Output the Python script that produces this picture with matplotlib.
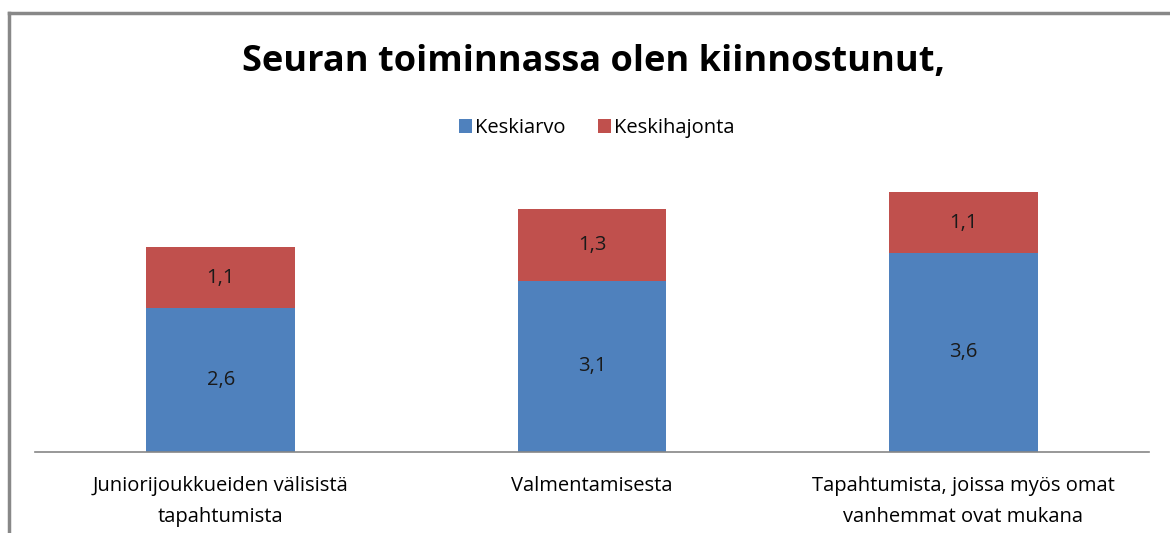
import matplotlib.pyplot as plt
from matplotlib.lines import Line2D

categories = ['Juniorijoukkueiden välisistä\ntapahtumista',
              'Valmentamisesta',
              'Tapahtumista, joissa myös omat\nvanhemmat ovat mukana']
keskiarvo = [2.6, 3.1, 3.6]
keskihajonta = [1.1, 1.3, 1.1]
labels_mean = ['2,6', '3,1', '3,6']
labels_sd = ['1,1', '1,3', '1,1']

blue = '#4F81BD'
red = '#C0504D'
font = ['Open Sans', 'DejaVu Sans']
plt.rcParams['font.family'] = font

W, H = 1170, 533
fig = plt.figure(figsize=(W / 100, H / 100), dpi=100)

# chart frame (only left and top edges visible in the reference)
fig.add_artist(Line2D([9 / W, 9 / W], [0, 1 - 13 / H], color='#888888', lw=2.5))
fig.add_artist(Line2D([9 / W, 1], [1 - 13 / H, 1 - 13 / H], color='#888888', lw=2.5))

base = 452
top = 175.5
ax = fig.add_axes([35 / W, (H - base) / H, (1149 - 35) / W, (base - top) / H])

x = range(len(categories))
b1 = ax.bar(x, keskiarvo, width=0.4, color=blue, label='Keskiarvo')
b2 = ax.bar(x, keskihajonta, width=0.4, bottom=keskiarvo, color=red, label='Keskihajonta')

for i in x:
    ax.text(i, keskiarvo[i] / 2, labels_mean[i], ha='center', va='center',
            fontsize=14.5, color='#1a1a1a')
    ax.text(i, keskiarvo[i] + keskihajonta[i] / 2, labels_sd[i], ha='center',
            va='center', fontsize=14.5, color='#1a1a1a')

ax.set_xlim(-0.5, 2.5)
ax.set_ylim(0, 5)
ax.set_yticks([])
ax.set_xticks(list(x))
ax.set_xticklabels(categories, fontsize=14.5, linespacing=1.75)
ax.tick_params(axis='x', length=0, pad=17)
for s in ['top', 'right', 'left']:
    ax.spines[s].set_visible(False)
ax.spines['bottom'].set_color('#868686')
ax.spines['bottom'].set_linewidth(1.2)

fig.text(593 / W, 1 - 62 / H, 'Seuran toiminnassa olen kiinnostunut,',
         ha='center', va='center', fontsize=26, fontweight='bold')

fig.legend(handles=[b1, b2], loc='center', bbox_to_anchor=(597 / W, 1 - 128 / H),
           ncol=2, frameon=False, fontsize=14.5, handlelength=0.65, handleheight=0.65,
           handletextpad=0.15, columnspacing=1.6)

fig.savefig('out.png', dpi=100)
